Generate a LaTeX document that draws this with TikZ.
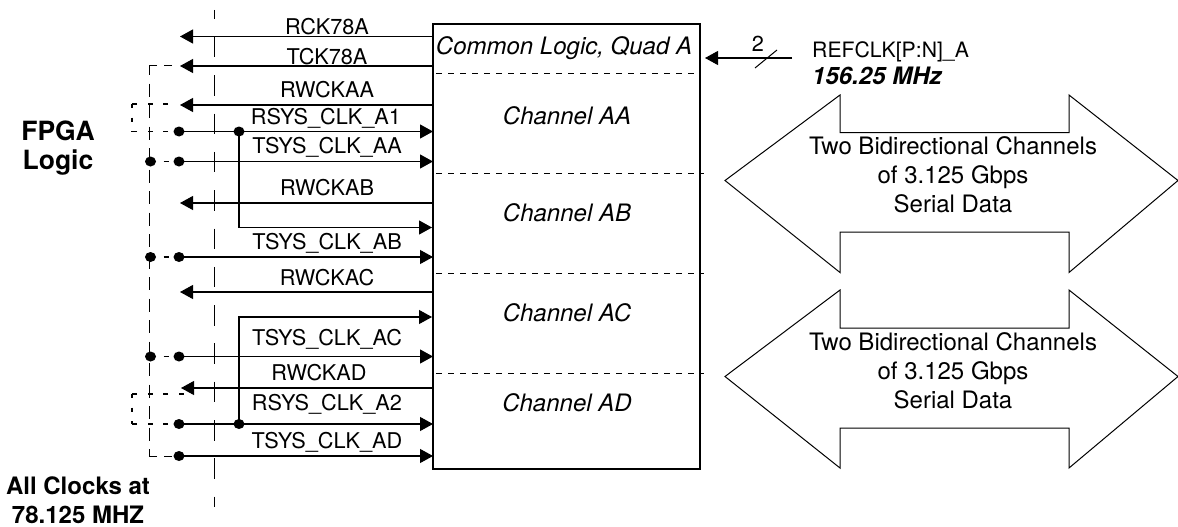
\documentclass[tikz,border=0pt]{standalone}
\usepackage{fontspec}
\setmainfont{TeX Gyre Heros}
\usetikzlibrary{arrows.meta,shapes.geometric}
\tikzset{
  x=1pt,y=-1pt,
  sig/.style={line width=1.1pt,-{Triangle[length=13pt,width=14pt]},shorten >=0pt},
  plainln/.style={line width=1pt},
  dhoriz/.style={line width=1pt,dash pattern=on 8pt off 7pt},
  dbus/.style={line width=1pt,dash pattern=on 13pt off 8.5pt,dash phase=4pt},
  dsh/.style={line width=1.7pt,dash pattern=on 5pt off 10.5pt},
  dshv/.style={line width=1.7pt,dash pattern=on 4pt off 9.5pt},
  link/.style={line width=1.7pt,dash pattern=on 0pt off 13pt on 5pt off 60pt},
  sep/.style={line width=.8pt,dash pattern=on 6pt off 6pt},
  bnd/.style={line width=1pt,dash pattern=on 20.5pt off 17.8pt,dash phase=11.3pt},
  lbl/.style={font=\fontsize{21.7}{24}\selectfont,inner sep=0pt,anchor=center},
  chan/.style={font=\fontsize{24}{28}\selectfont\itshape,inner sep=0pt,anchor=center},
  big/.style={font=\fontsize{26.5}{30}\selectfont\bfseries,inner sep=0pt,anchor=center},
  note/.style={font=\fontsize{24}{28}\selectfont\bfseries,inner sep=0pt,anchor=center},
  data/.style={font=\fontsize{24}{29}\selectfont,inner sep=0pt,align=center,anchor=center},
  dot/.style={ellipse,fill=black,inner sep=0pt,minimum width=11pt,minimum height=10pt},
  dbl/.style={line width=1pt,line join=miter}
}
\begin{document}
\begin{tikzpicture}
\useasboundingbox (0,0) rectangle (1178,527);
\node[draw,line width=1.1pt,minimum width=267pt,minimum height=445pt,inner sep=0pt] (box) at (566.5,246.5) {};

% boundary and separators
\coordinate (bT) at (214,10); \coordinate (bB) at (214,507);
\draw[bnd] (bT) -- (bB);
\foreach \n/\y/\e in {s1/73.5/700,s2/173.5/704,s3/273.5/704,s4/373.5/704}{
  \coordinate (\n L) at (436,\y); \coordinate (\n R) at (\e,\y);
  \draw[sep] (\n L) -- (\n R);
}

% endpoints and dots
\coordinate (aL) at (180,36.5);  \coordinate (aR) at (433,36.5);
\coordinate (bL) at (180,66);    \coordinate (bR) at (433,66);
\coordinate (cL) at (180,105);   \coordinate (cR) at (433,105);
\node[dot] (dL) at (179,131.5) {}; \coordinate (dR) at (433,131.5);
\node[dot] (dJ) at (239,131.5) {};
\node[dot] (eL) at (179,161.5) {};   \coordinate (eR) at (433,161.5);
\node[dot] (eB) at (150.5,161.5) {};
\coordinate (fL) at (180,203);   \coordinate (fR) at (433,203);
\coordinate (gR) at (432,227.5);
\coordinate (gC) at (239,227.5);
\node[dot] (hL) at (179,257) {};   \coordinate (hR) at (433,257);
\node[dot] (hB) at (150.5,257) {};
\coordinate (iL) at (180,292);   \coordinate (iR) at (433,292);
\coordinate (jR) at (432,317);
\coordinate (jC) at (239,317);
\node[dot] (kL) at (179,356.5) {}; \coordinate (kR) at (433,356.5);
\node[dot] (kB) at (150.5,356.5) {};
\coordinate (lL) at (181,388);   \coordinate (lR) at (433,388);
\node[dot] (mL) at (179,424) {};   \coordinate (mR) at (433,424);
\node[dot] (mJ) at (239,424) {};
\node[dot] (nL) at (179,456) {};   \coordinate (nR) at (433,456);

% signals
\foreach \s in {a,b,c,f,i,l}{ \draw[sig] (\s R) -- (\s L); }
\foreach \s in {d,e,h,k,m,n}{ \draw[sig] (\s L.center) -- (\s R); }
\draw[sig] (dJ.center) -- (gC) -- (gR);
\draw[sig] (mJ.center) -- (jC) -- (jR);

% dashed clock bus
\coordinate (pT) at (149,66); \coordinate (pB) at (149,456);
\coordinate (pTs) at (172,66); \coordinate (pBs) at (172,456);
\draw[dhoriz] (pTs) -- (pT);
\draw[dbus] (pT) -- (pB);
\draw[dhoriz] (pBs) -- (pB);
% short thick dashed loops
\coordinate (q0) at (168,104); \coordinate (q1) at (132,104);
\coordinate (q2) at (132,131.5); \coordinate (q2s) at (168,131.5);
\coordinate (q5) at (183.5,394); \coordinate (q3) at (132,394);
\coordinate (q4) at (132,424); \coordinate (q4s) at (168,424);
\draw[dsh] (q0) -- (q1);
\draw[dsh] (q2s) -- (q2);
\draw[dshv] (q1) -- (q2);
\draw[dsh] (q5) -- (q3);
\draw[dsh] (q4s) -- (q4);
\draw[dshv] (q3) -- (q4);
\draw[link] (eB.center) -- (eL.center);
\draw[link] (hB.center) -- (hL.center);
\draw[link] (kB.center) -- (kL.center);

% signal labels
\node[lbl] (t1) at (327,27) {RCK78A};
\node[lbl] (t2) at (327,57) {TCK78A};
\node[lbl] (t3) at (327,90) {RWCKAA};
\node[lbl] (t4) at (326,118) {RSYS\_CLK\_A1};
\node[lbl] (t5) at (327,147) {TSYS\_CLK\_AA};
\node[lbl] (t6) at (327,188) {RWCKAB};
\node[lbl] (t7) at (327,243) {TSYS\_CLK\_AB};
\node[lbl] (t8) at (327,278) {RWCKAC};
\node[lbl] (t9) at (327,339) {TSYS\_CLK\_AC};
\node[lbl] (t10) at (319,373) {RWCKAD};
\node[lbl] (t11) at (327,404) {RSYS\_CLK\_A2};
\node[lbl] (t12) at (327,442) {TSYS\_CLK\_AD};

% channel labels
\node[chan] (c0) at (564,48) {Common Logic, Quad A};
\node[chan] (c1) at (567,116) {Channel AA};
\node[chan] (c2) at (567,213) {Channel AB};
\node[chan] (c3) at (567,313) {Channel AC};
\node[chan] (c4) at (567,403) {Channel AD};

% side labels
\node[big] (f1) at (58,131) {FPGA};
\node[big] (f2) at (58,163) {Logic};
\node[note] (g1) at (78,486) {All Clocks at};
\node[note] (g2) at (78,515) {78.125 MHZ};

% REFCLK
\coordinate (rS) at (792,58); \coordinate (rE) at (705,58);
\draw[sig] (rS) -- (rE);
\coordinate (sA) at (755,68); \coordinate (sB) at (777,50);
\draw[plainln] (sA) -- (sB);
\node[lbl] (two) at (758,44) {2};
\node[lbl,anchor=west,font=\fontsize{21.2}{24}\selectfont] (r1) at (812,52) {REFCLK[P:N]\_A};
\node[note,anchor=west,font=\fontsize{24}{28}\selectfont\bfseries\itshape] (r2) at (812,76) {156.25 MHz};

% double arrows
\draw[dbl] (725,180.5) -- (840,95) -- (840,132.5) -- (1069,132.5) -- (1069,95) -- (1178,180.5) -- (1069,272.5) -- (1069,232) -- (840,232) -- (840,272.5) -- cycle;
\draw[dbl] (725,376.5) -- (840,290) -- (840,328) -- (1069,328) -- (1069,290) -- (1178,376.5) -- (1069,468) -- (1069,428) -- (840,428) -- (840,468) -- cycle;
\node[data] (d1) at (953,175) {Two Bidirectional Channels\\of 3.125 Gbps\\Serial Data};
\node[data] (d2) at (953,371) {Two Bidirectional Channels\\of 3.125 Gbps\\Serial Data};
\end{tikzpicture}
\end{document}
